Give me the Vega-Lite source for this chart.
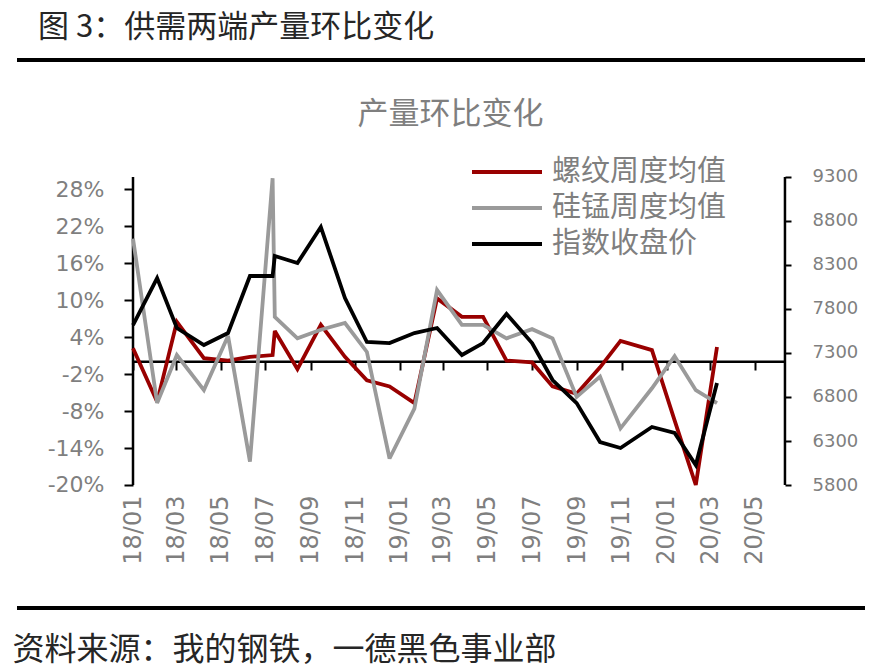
{
  "$schema": "https://vega.github.io/schema/vega-lite/v6.json",
  "width": 848,
  "height": 548,
  "autosize": {"type": "none"},
  "padding": {"left": 17, "top": 60, "right": 15, "bottom": 63},
  "config": {
    "font": "Noto Sans CJK SC",
    "view": {"stroke": "#000000", "strokeWidth": 4, "strokeDash": [848, 548]}
  },
  "title": {
    "text": "图 3：供需两端产量环比变化",
    "anchor": "start",
    "frame": "group",
    "dx": 21,
    "offset": 16,
    "font": "Noto Sans CJK SC",
    "fontSize": 31,
    "fontWeight": "normal",
    "color": "#262626"
  },
  "data": {
    "values": [
      {"d": "2018-01-01", "螺纹周度均值": 0.022, "硅锰周度均值": 0.200, "指数收盘价": 7618},
      {"d": "2018-02-03", "螺纹周度均值": -0.065, "硅锰周度均值": -0.067, "指数收盘价": 8152},
      {"d": "2018-03-02", "螺纹周度均值": 0.065, "硅锰周度均值": 0.011, "指数收盘价": 7584},
      {"d": "2018-04-08", "螺纹周度均值": 0.006, "硅锰周度均值": -0.046, "指数收盘价": 7391},
      {"d": "2018-05-11", "螺纹周度均值": 0.002, "硅锰周度均值": 0.042, "指数收盘价": 7527},
      {"d": "2018-06-10", "螺纹周度均值": 0.008, "硅锰周度均值": -0.162, "指数收盘价": 8175},
      {"d": "2018-07-11", "螺纹周度均值": 0.011, "硅锰周度均值": 0.298, "指数收盘价": 8175},
      {"d": "2018-07-14", "螺纹周度均值": 0.050, "硅锰周度均值": 0.073, "指数收盘价": 8402},
      {"d": "2018-08-14", "螺纹周度均值": -0.012, "硅锰周度均值": 0.038, "指数收盘价": 8322},
      {"d": "2018-09-15", "螺纹周度均值": 0.060, "硅锰周度均值": 0.052, "指数收盘价": 8731},
      {"d": "2018-10-18", "螺纹周度均值": 0.008, "硅锰周度均值": 0.063, "指数收盘价": 7925},
      {"d": "2018-11-17", "螺纹周度均值": -0.030, "硅锰周度均值": 0.016, "指数收盘价": 7425},
      {"d": "2018-12-18", "螺纹周度均值": -0.040, "硅锰周度均值": -0.157, "指数收盘价": 7413},
      {"d": "2019-01-21", "螺纹周度均值": -0.067, "硅锰周度均值": -0.076, "指数收盘价": 7527},
      {"d": "2019-02-21", "螺纹周度均值": 0.103, "硅锰周度均值": 0.1165, "指数收盘价": 7584},
      {"d": "2019-03-27", "螺纹周度均值": 0.073, "硅锰周度均值": 0.060, "指数收盘价": 7277},
      {"d": "2019-04-25", "螺纹周度均值": 0.073, "硅锰周度均值": 0.060, "指数收盘价": 7413},
      {"d": "2019-05-27", "螺纹周度均值": 0.002, "硅锰周度均值": 0.038, "指数收盘价": 7743},
      {"d": "2019-07-01", "螺纹周度均值": -0.001, "硅锰周度均值": 0.053, "指数收盘价": 7413},
      {"d": "2019-07-29", "螺纹周度均值": -0.040, "硅锰周度均值": 0.038, "指数收盘价": 6993},
      {"d": "2019-08-31", "螺纹周度均值": -0.052, "硅锰周度均值": -0.057, "指数收盘价": 6731},
      {"d": "2019-10-02", "螺纹周度均值": -0.009, "硅锰周度均值": -0.024, "指数收盘价": 6288},
      {"d": "2019-10-30", "螺纹周度均值": 0.034, "硅锰周度均值": -0.108, "指数收盘价": 6220},
      {"d": "2019-12-12", "螺纹周度均值": 0.019, "硅锰周度均值": -0.043, "指数收盘价": 6459},
      {"d": "2020-01-12", "螺纹周度均值": -0.095, "硅锰周度均值": 0.009, "指数收盘价": 6391},
      {"d": "2020-02-10", "螺纹周度均值": -0.200, "硅锰周度均值": -0.046, "指数收盘价": 6027},
      {"d": "2020-03-10", "螺纹周度均值": 0.024, "硅锰周度均值": -0.067, "指数收盘价": 6959}
    ]
  },
  "layer": [
    {
      "layer": [
        {
          "data": {"values": [{}]},
          "mark": {"type": "rule", "color": "#000000", "strokeWidth": 2.5},
          "encoding": {
            "x": {"datum": {"year": 2018, "month": 1, "date": 1, "utc": true}, "type": "temporal",
              "scale": {"type": "utc", "nice": false, "domain": [{"year": 2017, "month": 7, "date": 26, "hours": 7, "utc": true}, {"year": 2020, "month": 9, "date": 28, "hours": 12, "utc": true}]},
              "axis": {"orient": "bottom", "offset": -246, "values": [{"year": 2018, "month": 1, "date": 1, "utc": true}, {"year": 2018, "month": 3, "date": 1, "utc": true}, {"year": 2018, "month": 5, "date": 1, "utc": true}, {"year": 2018, "month": 7, "date": 1, "utc": true}, {"year": 2018, "month": 9, "date": 1, "utc": true}, {"year": 2018, "month": 11, "date": 1, "utc": true}, {"year": 2019, "month": 1, "date": 1, "utc": true}, {"year": 2019, "month": 3, "date": 1, "utc": true}, {"year": 2019, "month": 5, "date": 1, "utc": true}, {"year": 2019, "month": 7, "date": 1, "utc": true}, {"year": 2019, "month": 9, "date": 1, "utc": true}, {"year": 2019, "month": 11, "date": 1, "utc": true}, {"year": 2020, "month": 1, "date": 1, "utc": true}, {"year": 2020, "month": 3, "date": 1, "utc": true}, {"year": 2020, "month": 5, "date": 1, "utc": true}], "labelExpr": "utcFormat(datum.value, '%y/%m')", "domain": false, "grid": false, "ticks": true, "tickSize": 8, "tickWidth": 2, "tickColor": "#000000", "labelAngle": 270, "labelAlign": "right", "labelBaseline": "middle", "labelPadding": 125, "labelFont": "DejaVu Sans", "labelFontSize": 24, "labelColor": "#7f7f7f", "labelOverlap": false, "labelFlush": false, "labelBound": false, "title": "资料来源：我的钢铁，一德黑色事业部", "titleX": -5, "titleY": 287, "titleAlign": "left", "titleAnchor": "start", "titleBaseline": "middle", "titleAngle": 0, "titleFont": "Noto Sans CJK SC", "titleFontSize": 32, "titleFontWeight": "normal", "titleColor": "#262626"}},
            "x2": {"datum": {"year": 2020, "month": 6, "date": 11, "utc": true}},
            "y": {"datum": 0, "type": "quantitative",
              "scale": {"domain": [-0.39968, 0.48994], "nice": false, "zero": false},
              "axis": {"orient": "left", "offset": -116, "values": [-0.2, -0.14, -0.08, -0.02, 0.04, 0.1, 0.16, 0.22, 0.28], "format": ".0%", "labelExpr": "replace(datum.label, '−', '-')", "domain": false, "grid": false, "tickSize": 9, "tickWidth": 2, "tickColor": "#000000", "labelPadding": 20, "labelFont": "DejaVu Sans", "labelFontSize": 22, "labelColor": "#7f7f7f", "labelBaseline": "middle", "labelAlign": "right", "title": "产量环比变化", "titleX": 317, "titleY": 54, "titleAngle": 0, "titleAlign": "center", "titleBaseline": "middle", "titleFont": "Noto Sans CJK SC", "titleFontSize": 31, "titleFontWeight": "normal", "titleColor": "#7f7f7f"}}
          }
        },
        {
          "data": {"values": [{}]},
          "mark": {"type": "rule", "color": "#000000", "strokeWidth": 2.5},
          "encoding": {
            "x": {"datum": {"year": 2018, "month": 1, "date": 1, "utc": true}, "type": "temporal",
              "scale": {"type": "utc", "nice": false, "domain": [{"year": 2017, "month": 7, "date": 26, "hours": 7, "utc": true}, {"year": 2020, "month": 9, "date": 28, "hours": 12, "utc": true}]}},
            "y": {"datum": -0.2, "type": "quantitative",
              "scale": {"domain": [-0.39968, 0.48994], "nice": false, "zero": false}},
            "y2": {"datum": 0.3}
          }
        },
        {
          "data": {"values": [{}]},
          "mark": {"type": "rule", "color": "#000000", "strokeWidth": 2.5},
          "encoding": {
            "x": {"datum": {"year": 2020, "month": 6, "date": 11, "utc": true}, "type": "temporal",
              "scale": {"type": "utc", "nice": false, "domain": [{"year": 2017, "month": 7, "date": 26, "hours": 7, "utc": true}, {"year": 2020, "month": 9, "date": 28, "hours": 12, "utc": true}]}},
            "y": {"datum": -0.2, "type": "quantitative",
              "scale": {"domain": [-0.39968, 0.48994], "nice": false, "zero": false}},
            "y2": {"datum": 0.3}
          }
        },
        {
          "transform": [{"fold": ["螺纹周度均值", "硅锰周度均值"], "as": ["series", "val"]}],
          "mark": {"type": "line", "strokeWidth": 3.8, "strokeJoin": "miter", "strokeMiterLimit": 3},
          "encoding": {
            "x": {"field": "d", "type": "temporal",
              "scale": {"type": "utc", "nice": false, "domain": [{"year": 2017, "month": 7, "date": 26, "hours": 7, "utc": true}, {"year": 2020, "month": 9, "date": 28, "hours": 12, "utc": true}]}},
            "y": {"field": "val", "type": "quantitative",
              "scale": {"domain": [-0.39968, 0.48994], "nice": false, "zero": false}},
            "color": {"field": "series", "type": "nominal",
              "scale": {"domain": ["螺纹周度均值", "硅锰周度均值", "指数收盘价"], "range": ["#990000", "#9a9a9a", "#000000"]},
              "legend": {"orient": "none", "legendX": 453, "legendY": 94, "title": null, "symbolType": "stroke", "symbolSize": 4900, "symbolStrokeWidth": 4, "clipHeight": 36, "rowPadding": 0, "labelOffset": 8, "labelLimit": 400, "labelFont": "Noto Sans CJK SC", "labelFontSize": 29, "labelColor": "#7f7f7f", "padding": 0}},
            "order": {"field": "d", "type": "temporal"}
          }
        }
      ]
    },
    {
      "transform": [{"fold": ["指数收盘价"], "as": ["series", "val"]}],
      "mark": {"type": "line", "strokeWidth": 3.8, "strokeJoin": "miter", "strokeMiterLimit": 3},
      "encoding": {
        "x": {"field": "d", "type": "temporal",
          "scale": {"type": "utc", "nice": false, "domain": [{"year": 2017, "month": 7, "date": 26, "hours": 7, "utc": true}, {"year": 2020, "month": 9, "date": 28, "hours": 12, "utc": true}]}},
        "y": {"field": "val", "type": "quantitative",
          "scale": {"domain": [4402.3, 10629.5], "nice": false, "zero": false},
          "axis": {"orient": "right", "offset": -80, "values": [5800, 6300, 6800, 7300, 7800, 8300, 8800, 9300], "format": "d", "domain": false, "grid": false, "tickSize": 6, "tickWidth": 2, "tickColor": "#000000", "labelPadding": 21, "labelFont": "DejaVu Sans", "labelFontSize": 18, "labelColor": "#7f7f7f", "labelBaseline": "middle", "labelAlign": "left", "title": null}},
        "color": {"field": "series", "type": "nominal",
          "scale": {"domain": ["螺纹周度均值", "硅锰周度均值", "指数收盘价"], "range": ["#990000", "#9a9a9a", "#000000"]},
          "legend": {"orient": "none", "legendX": 453, "legendY": 94, "title": null, "symbolType": "stroke", "symbolSize": 4900, "symbolStrokeWidth": 4, "clipHeight": 36, "rowPadding": 0, "labelOffset": 8, "labelLimit": 400, "labelFont": "Noto Sans CJK SC", "labelFontSize": 29, "labelColor": "#7f7f7f", "padding": 0}},
        "order": {"field": "d", "type": "temporal"}
      }
    }
  ],
  "resolve": {"scale": {"y": "independent"}}
}
